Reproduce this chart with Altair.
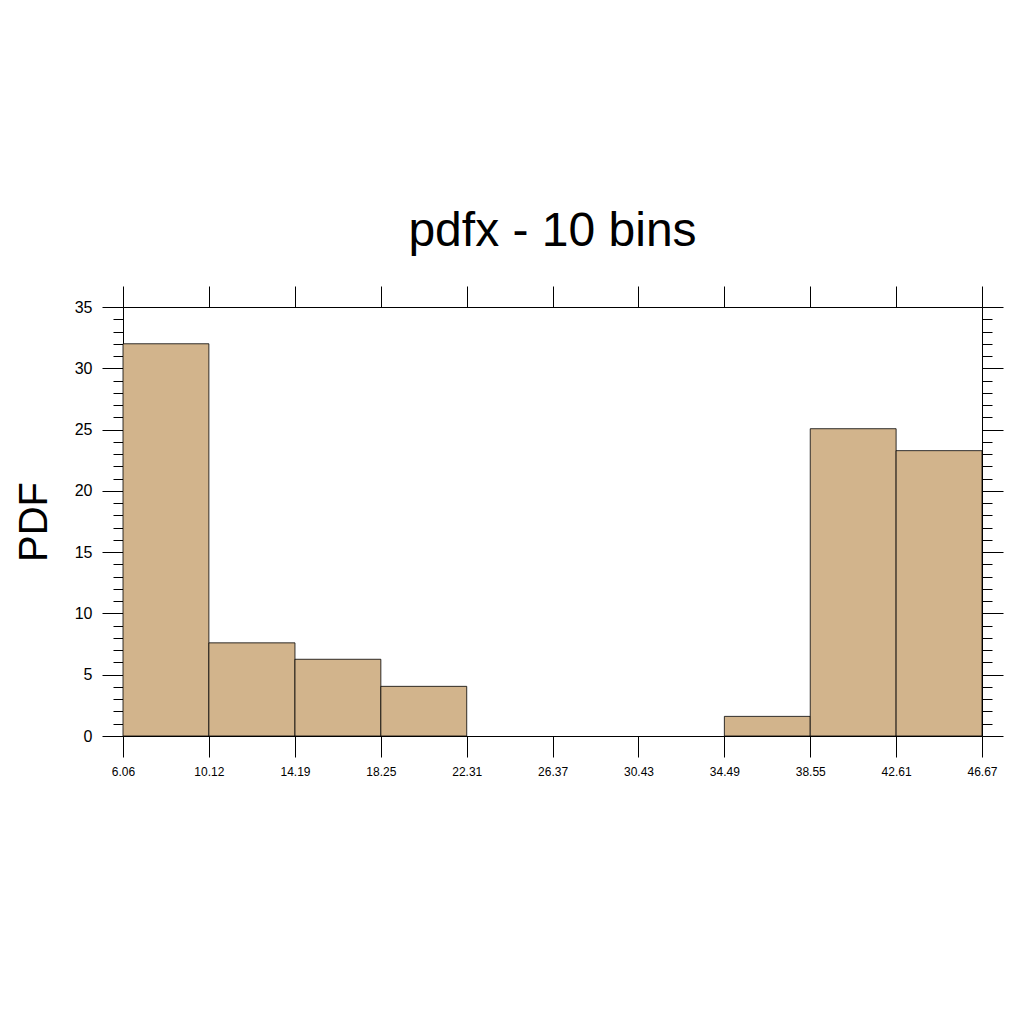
import altair as alt
import pandas as pd

bin_edges = [6.06, 10.12, 14.19, 18.25, 22.31, 26.37, 30.43, 34.49, 38.55, 42.61, 46.67]
pdf_values = [32.0, 7.6, 6.26, 4.05, 0.0, 0.0, 0.0, 1.6, 25.07, 23.28]
y_ticks = list(range(0, 36))

df = pd.DataFrame({
    "x0": bin_edges[:-1],
    "x1": bin_edges[1:],
    "pdf": pdf_values,
})
df = df[df["pdf"] > 0]

xscale = alt.Scale(domain=[bin_edges[0], bin_edges[-1]], nice=False, zero=False)
yscale = alt.Scale(domain=[0, 35], nice=False)

font = "Liberation Sans"

tick_size = {"condition": {"test": "datum.value % 5 === 0", "value": 21}, "value": 10}

bars = alt.Chart(df).mark_rect(
    fill="#D2B48C", stroke="black", strokeWidth=0.8
).encode(
    x=alt.X("x0:Q", scale=xscale, axis=alt.Axis(
        orient="bottom", values=bin_edges, format=".2f", title=None,
        tickSize=21, tickColor="black", tickWidth=1, domainColor="black", domainWidth=1,
        labelFont=font, labelFontSize=12, labelColor="black", labelPadding=9,
        grid=False, labelFlush=False, labelOverlap=False)),
    x2="x1:Q",
    y=alt.Y("pdf:Q", scale=yscale, axis=alt.Axis(
        orient="left", values=y_ticks, title="PDF",
        labelExpr="datum.value % 5 === 0 ? datum.label : ''",
        tickSize=tick_size, tickColor="black", tickWidth=1, domainColor="black", domainWidth=1,
        labelFont=font, labelFontSize=16, labelColor="black", labelPadding=10,
        titleFont=font, titleFontSize=40, titleFontWeight="normal", titleColor="black",
        titlePadding=20, grid=False, labelOverlap=False)),
    y2=alt.datum(0),
)

frame = alt.Chart(df).mark_rect(opacity=0).encode(
    x=alt.X("x0:Q", scale=xscale, axis=alt.Axis(
        orient="top", values=bin_edges, labels=False, title=None,
        tickSize=21, tickColor="black", tickWidth=1, domainColor="black", domainWidth=1,
        grid=False)),
    x2="x1:Q",
    y=alt.Y("pdf:Q", scale=yscale, axis=alt.Axis(
        orient="right", values=y_ticks, labels=False, title=None,
        tickSize=tick_size, tickColor="black", tickWidth=1, domainColor="black", domainWidth=1,
        grid=False)),
    y2=alt.datum(0),
)

chart = alt.layer(bars, frame).resolve_axis(x="independent", y="independent").properties(
    width=859, height=429,
    title=alt.Title("pdfx - 10 bins", font=font, fontSize=48, fontWeight="normal",
                    color="black", anchor="middle", offset=30),
    autosize=alt.AutoSizeParams(type="none"),
    padding={"left": 115, "top": 299, "right": 30, "bottom": 250},
).configure_view(stroke=None).configure(background="white")

chart.save("out.html", embed_options={"renderer": "svg", "actions": False})
